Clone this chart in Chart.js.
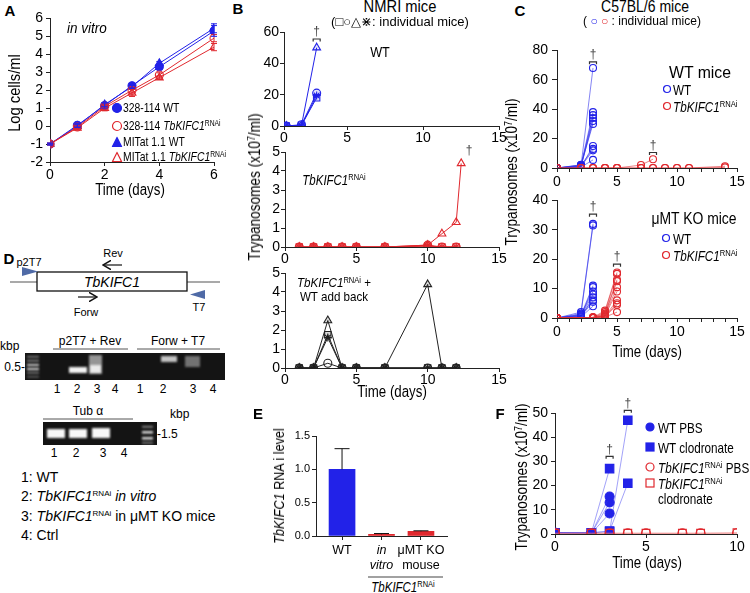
<!DOCTYPE html>
<html>
<head>
<meta charset="utf-8">
<script src="https://cdn.jsdelivr.net/npm/chart.js@4.4.1/dist/chart.umd.min.js"></script>
<style>
  body { margin: 0; width: 750px; height: 593px; position: relative; overflow: hidden; background: #fff;
         font-family: "Liberation Sans", Arial, sans-serif; color: #000; }
  canvas { position: absolute; }
  .t { position: absolute; white-space: nowrap; line-height: 1; }
  .t sup { font-size: 0.65em; position: relative; top: -0.5em; vertical-align: baseline; line-height: 0; }
  #gel { position: absolute; left: 0; top: 0; }
</style>
</head>
<body>
<svg id="gel" width="240" height="593" font-family="Liberation Sans, Arial, sans-serif">
  <defs>
    <filter id="blur"><feGaussianBlur stdDeviation="1.2"/></filter>
    <marker id="ah" markerWidth="8" markerHeight="8" refX="6" refY="4" orient="auto">
      <path d="M0,0 L7,4 L0,8" fill="none" stroke="#111" stroke-width="1.2"/>
    </marker>
  </defs>
  <!-- construct -->
  <line x1="10" y1="282" x2="220" y2="282" stroke="#555" stroke-width="1.2"/>
  <rect x="37" y="272" width="150" height="19" fill="#fff" stroke="#111" stroke-width="1.3"/>
  <text x="112" y="287" font-size="14" font-style="italic" text-anchor="middle">TbKIFC1</text>
  <polygon points="22,267 38,271.5 22,276" fill="#4f6aa6"/>
  <text x="29" y="266" font-size="11" text-anchor="middle">p2T7</text>
  <polygon points="205,290 190,294.5 205,299" fill="#4f6aa6"/>
  <text x="199" y="311" font-size="11" text-anchor="middle">T7</text>
  <text x="113" y="257" font-size="11" text-anchor="middle">Rev</text>
  <line x1="122" y1="265" x2="104" y2="265" stroke="#111" stroke-width="1.2" marker-end="url(#ah)"/>
  <text x="86" y="316" font-size="11" text-anchor="middle">Forw</text>
  <line x1="78" y1="297" x2="96" y2="297" stroke="#111" stroke-width="1.2" marker-end="url(#ah)"/>
  <!-- gel 1 -->
  <text x="0" y="350" font-size="12">kbp</text>
  <text x="25" y="371" font-size="12" text-anchor="end">0.5-</text>
  <text x="90" y="345" font-size="12" text-anchor="middle">p2T7 + Rev</text>
  <line x1="53" y1="349" x2="128" y2="349" stroke="#555" stroke-width="1"/>
  <text x="178" y="345" font-size="12" text-anchor="middle">Forw + T7</text>
  <line x1="137" y1="349" x2="220" y2="349" stroke="#555" stroke-width="1"/>
  <rect x="25" y="353" width="200" height="27" fill="#141414"/>
  <g filter="url(#blur)" fill="#fff">
    <rect x="27" y="356" width="12" height="1.5" opacity="0.5"/>
    <rect x="27" y="360" width="12" height="1.5" opacity="0.55"/>
    <rect x="27" y="364" width="12" height="2" opacity="0.8"/>
    <rect x="27" y="368" width="12" height="2" opacity="0.85"/>
    <rect x="27" y="372" width="12" height="1.5" opacity="0.5"/>
    <rect x="27" y="376" width="12" height="1.5" opacity="0.35"/>
    <rect x="69" y="367" width="18" height="6" opacity="0.95"/>
    <rect x="89" y="355" width="13" height="19" opacity="0.55"/>
    <rect x="90" y="365" width="11" height="8" opacity="0.8"/>
    <rect x="161" y="356" width="16" height="6" opacity="0.75"/>
    <rect x="185" y="356" width="15" height="11" opacity="0.4"/>
  </g>
  <g font-size="12" text-anchor="middle">
    <text x="57" y="393">1</text><text x="77" y="393">2</text><text x="97" y="393">3</text><text x="115" y="393">4</text>
    <text x="140" y="393">1</text><text x="163" y="393">2</text><text x="193" y="393">3</text><text x="213" y="393">4</text>
  </g>
  <!-- gel 2 -->
  <text x="88" y="415" font-size="12" text-anchor="middle">Tub &#945;</text>
  <line x1="43" y1="419" x2="133" y2="419" stroke="#555" stroke-width="1"/>
  <text x="170" y="418" font-size="12">kbp</text>
  <rect x="43" y="422" width="114" height="23" fill="#141414"/>
  <g filter="url(#blur)" fill="#fff">
    <rect x="47" y="429" width="18" height="9" opacity="0.97"/>
    <rect x="69" y="429" width="18" height="9" opacity="0.97"/>
    <rect x="92" y="428" width="18" height="10" opacity="0.97"/>
    <rect x="142" y="426" width="11" height="1.5" opacity="0.6"/>
    <rect x="142" y="431" width="11" height="2.5" opacity="0.85"/>
    <rect x="142" y="437" width="11" height="2.5" opacity="0.85"/>
    <rect x="142" y="442" width="11" height="1.5" opacity="0.5"/>
  </g>
  <text x="157" y="438" font-size="12">-1.5</text>
  <g font-size="12" text-anchor="middle">
    <text x="54" y="457">1</text><text x="76" y="457">2</text><text x="103" y="457">3</text><text x="124" y="457">4</text>
  </g>
  <g font-size="14">
    <text x="21" y="482">1: WT</text>
    <text x="21" y="501">2: <tspan font-style="italic">TbKIFC1</tspan><tspan font-size="8" dy="-5">RNAi</tspan><tspan dy="5" font-style="italic"> in vitro</tspan></text>
    <text x="21" y="521">3: <tspan font-style="italic">TbKIFC1</tspan><tspan font-size="8" dy="-5">RNAi</tspan><tspan dy="5"> in &#956;MT KO mice</tspan></text>
    <text x="21" y="540">4: Ctrl</text>
  </g>
</svg>
<script>
// ---------- data ----------
// A: in vitro growth (log cells/ml)
const aDays = [0, 1, 2, 3, 4, 6];
const a328Wt = [-1, 0.05, 1.15, 2.25, 3.3, 5.3];
const a328WtErr = [0.05, 0.1, 0.15, 0.12, 0.1, 0.3];
const a328Rnai = [-1, -0.05, 1.1, 2.0, 2.85, 4.9];
const a328RnaiErr = [0.05, 0.1, 0.12, 0.15, 0.12, 0.2];
const aMitatWt = [-1, 0.0, 1.2, 2.2, 3.5, 5.45];
const aMitatWtErr = [0.05, 0.08, 0.1, 0.1, 0.1, 0.25];
const aMitatRnai = [-1, -0.1, 1.0, 1.85, 2.7, 4.4];
const aMitatRnaiErr = [0.05, 0.1, 0.15, 0.2, 0.1, 0.2];

// B: NMRI mice, one array per mouse (square, circle, triangle, star)
const bWtDays = [1, 2, 3];
const bWtSquare = [0, 0.5, 18];
const bWtCircle = [0, 0.8, 21];
const bWtTriangle = [0, 0.3, 50];
const bWtStar = [0, 0.2, 19.5];
const bWtDeaths = [[3, 60]];

const bRnaiDays = [1, 2, 3, 4, 5, 7, 10, 11, 12, 12.35];
const bRnaiSquare = [0, 0, 0, 0, 0, 0, 0.05, 0, 0, null];
const bRnaiCircle = [0, 0, 0, 0, 0, 0, 0.1, 0, 0, null];
const bRnaiTriangle = [0, 0, 0, 0, 0, 0, 0.1, 0.7, 1.3, 4.4];
const bRnaiStar = [0, 0, 0, 0, 0, 0, 0.05, 0, 0, null];
const bRnaiDeaths = [[12.9, 5.05]];

const bAddDays = [1, 2, 3, 4, 5, 7, 10, 11, 12];
const bAddSquare = [0, 0, 1.75, 0, 0, 0, 0, 0, 0];
const bAddCircle = [0, 0, 0.25, 0, 0, 0, 0, 0, 0];
const bAddTriangle = [0, 0, 2.5, 0, 0, 0, 4.4, 0, 0];
const bAddStar = [0, 0, 1.6, 0, 0, 0, 0, 0, 0];

// C: C57BL/6 mice, WT mice and muMT KO mice
const cWtDays = [0, 2, 3];
const cWtMice = [[0, 1.5, 68], [0, 2, 38], [0, 1, 36], [0, 1.2, 34], [0, 0.8, 32],
                 [0, 2.2, 30], [0, 0.5, 15], [0, 1.8, 13], [0, 1, 12], [0, 0.6, 5.5]];
const cRnaiDays = [0, 2, 3, 4, 5, 7, 8, 9, 10, 11, 14];
const cRnaiMice = [[0, 0, 0, 0, 0, 2, 6, null, null, null, null],
                   [0, 0, 0, 0, 0, 0, 0, 0, 0, 0, 1.2],
                   [0, 0, 0, 0, 0, 0, 0, 0, 0, 0, 0.4]];
const cWtDeaths = [[3, 77], [8, 15.3]];

const cKoWtDays = [0, 2, 3];
const cKoWtMice = [[0, 2, 32], [0, 1.5, 31.5], [0, 1, 11], [0, 0.5, 10.5], [0, 1.2, 9],
                   [0, 0.8, 8], [0, 0.3, 7], [0, 1, 6], [0, 0.6, 5.5], [0, 0.4, 4]];
const cKoRnaiDays = [0, 3, 4, 5];
const cKoRnaiMice = [[0, 0.2, 2.5, 15.5], [0, 0.1, 2, 15], [0, 0.2, 1.5, 13], [0, 0.1, 1.2, 12.5],
                     [0, 0, 1, 10.5], [0, 0.1, 0.8, 9], [0, 0, 0.6, 6], [0, 0.2, 0.5, 5],
                     [0, 0, 0.4, 4.5], [0, 0.1, 0.3, 2]];
const cKoDeaths = [[3, 37.7], [5, 20.7]];

// E: RNAi level
const eGroups = ['WT', ['in', 'vitro'], ['\u03bcMT KO', 'mouse']];
const eLevels = [1.0, 0.025, 0.07];
const eErr = [0.31, 0.012, 0.008];

// F: clodronate
const fWtDays = [0, 2, 3, 4];
const fWtPbs = [[0.5, 0.3, 15.5, null], [0.5, 0.3, 13, null], [0.5, 0.3, 8.5, null]];
const fWtClod = [[0.5, 0.5, 27, null], [0.5, 0.5, 1, 47], [0.5, 0.5, 1.2, 21]];
const fRnaiDays = [0, 2, 3, 4, 5, 7, 8, 10];
const fRnaiPbs = [0.3, 0.3, 0.3, 0.3, 0.3, 0.3, 0.3, 0.3];
const fRnaiClod = [0.3, 0.3, 0.3, 0.3, 0.3, 0.3, 0.3, 0.5];
const fDeaths = [[3, 35], [4, 54]];

// ---------- helpers ----------
const BLUE = '#2222e8', RED = '#e0282e', AX = '#222';
const FONT = '"Liberation Sans", Arial, sans-serif';
Chart.defaults.font.family = FONT;
Chart.defaults.color = '#000';

const pts = (xs, ys) => xs.map((x, i) => ({ x, y: ys[i] }));

// error bars, daggers and brackets drawn through the chart scales
const marks = {
  id: 'marks',
  afterDatasetsDraw(chart, args, opts) {
    const { ctx, scales: { x, y } } = chart;
    ctx.save();
    (opts.errors || []).forEach(e => {
      ctx.strokeStyle = e.color; ctx.lineWidth = 1;
      e.xs.forEach((xv, i) => {
        const px = x.getPixelForValue(xv);
        const top = y.getPixelForValue(e.ys[i] + e.errs[i]);
        const bot = y.getPixelForValue(e.ys[i] - (e.upOnly ? 0 : e.errs[i]));
        ctx.beginPath();
        ctx.moveTo(px, top); ctx.lineTo(px, bot);
        ctx.moveTo(px - e.cap, top); ctx.lineTo(px + e.cap, top);
        if (!e.upOnly) { ctx.moveTo(px - e.cap, bot); ctx.lineTo(px + e.cap, bot); }
        ctx.stroke();
      });
    });
    ctx.fillStyle = '#444'; ctx.strokeStyle = '#333'; ctx.lineWidth = 1.2;
    ctx.font = '12px ' + FONT; ctx.textAlign = 'center'; ctx.textBaseline = 'middle';
    (opts.deaths || []).forEach(d => {
      const px = x.getPixelForValue(d[0]), py = y.getPixelForValue(d[1]);
      ctx.fillText('\u2020', px, py);
      if (opts.bracket !== false) {
        const by = py + 7;
        ctx.beginPath();
        ctx.moveTo(px - 3.5, by + 2.5); ctx.lineTo(px - 3.5, by);
        ctx.lineTo(px + 3.5, by); ctx.lineTo(px + 3.5, by + 2.5);
        ctx.stroke();
      }
    });
    ctx.restore();
  }
};

function axis(o) {
  return {
    type: 'linear', min: o.min, max: o.max, offset: false,
    border: { color: AX, width: 1 },
    grid: { drawOnChartArea: false, offset: false, tickLength: o.tl || 4, color: AX },
    ticks: { stepSize: o.step, padding: o.pad, color: '#000', font: o.font || { size: o.fs || 14 },
             maxRotation: 0, autoSkip: false, callback: o.cb || (v => v) },
    afterBuildTicks: o.tickVals ? s => { s.ticks = o.tickVals.map(v => ({ value: v })); } : undefined
  };
}

function mount(area, yw, xh, config, pt) {
  pt = pt || 10;
  const pr = 14;
  const c = document.createElement('canvas');
  const w = area.x1 - area.x0 + yw + pr, h = area.y1 - area.y0 + pt + xh;
  c.width = w; c.height = h;
  c.style.left = (area.x0 - yw) + 'px'; c.style.top = (area.y0 - pt) + 'px';
  c.style.width = w + 'px'; c.style.height = h + 'px';
  document.body.appendChild(c);
  const o = config.options;
  o.responsive = false; o.animation = false; o.devicePixelRatio = 1;
  o.layout = { padding: { top: pt, right: pr, left: 0, bottom: 0 } };
  o.plugins = Object.assign({ legend: { display: false }, tooltip: { enabled: false } }, o.plugins);
  o.scales.x.afterFit = s => { s.height = xh; };
  o.scales.y.afterFit = s => { s.width = yw; };
  config.plugins = [marks];
  return new Chart(c, config);
}

function series(xs, ys, color, style, filled, r, lw, lineColor) {
  return { data: pts(xs, ys), borderColor: lineColor || color, borderWidth: lw, pointStyle: style,
           pointRadius: r, pointBorderColor: color, pointBorderWidth: 1.1,
           pointBackgroundColor: filled === true ? color : (filled || 'rgba(0,0,0,0)'), tension: 0 };
}

// text overlay; sx squeezes the text horizontally like the narrow type of the figure
function put(html, x, y, size, anchor, sx, extra) {
  const d = document.createElement('div');
  d.className = 't';
  d.innerHTML = html;
  const s = sx ? ` scaleX(${sx})` : '';
  const a = anchor || 'c';
  const tr = { c: 'translate(-50%,-50%)', l: 'translate(0,-50%)', r: 'translate(-100%,-50%)',
               v: 'translate(-50%,-50%) rotate(-90deg)' }[a] + s;
  const org = a === 'l' ? 'transform-origin:0 50%;' : '';
  d.style.cssText = `left:${x}px;top:${y}px;font-size:${size}px;transform:${tr};${org}${extra || ''}`;
  document.body.appendChild(d);
}

function sym(shape, color, filled, s) {
  s = s || 10;
  const f = filled ? color : 'none', h = s / 2;
  let el;
  if (shape === 'circle') el = `<circle cx="${h}" cy="${h}" r="${h - 1}" fill="${f}" stroke="${color}" stroke-width="1.2"/>`;
  else if (shape === 'rect') el = `<rect x="1" y="1" width="${s - 2}" height="${s - 2}" fill="${f}" stroke="${color}" stroke-width="1.2"/>`;
  else el = `<polygon points="${h},1 ${s - 1},${s - 1} 1,${s - 1}" fill="${f}" stroke="${color}" stroke-width="1.2"/>`;
  return `<svg width="${s}" height="${s}" style="display:block">${el}</svg>`;
}

const RNAI = '<i>TbKIFC1</i><sup>RNAi</sup>';
const TRYP = 'Trypanosomes (x10<sup>7</sup>/ml)';

// ---------- A ----------
mount({ x0: 50, x1: 214, y0: 17, y1: 162 }, 34, 24, {
  type: 'line',
  data: { datasets: [
    series(aDays, a328Rnai, RED, 'circle', false, 4, 1),
    series(aDays, aMitatRnai, RED, 'triangle', false, 4.5, 1),
    series(aDays, a328Wt, BLUE, 'circle', true, 4, 1),
    series(aDays, aMitatWt, BLUE, 'triangle', true, 4.5, 1)
  ] },
  options: {
    scales: {
      x: axis({ min: 0, max: 6, step: 2, pad: 1 }),
      y: axis({ min: -2, max: 6, step: 1, pad: 3 })
    },
    plugins: { marks: { errors: [
      { xs: aDays, ys: a328Rnai, errs: a328RnaiErr, color: RED, cap: 3 },
      { xs: aDays, ys: aMitatRnai, errs: aMitatRnaiErr, color: RED, cap: 3 },
      { xs: aDays, ys: a328Wt, errs: a328WtErr, color: BLUE, cap: 3 },
      { xs: aDays, ys: aMitatWt, errs: aMitatWtErr, color: BLUE, cap: 3 }
    ] } }
  }
});

// ---------- B ----------
const bTicks = v => v < 1 ? '0' : v;
mount({ x0: 284, x1: 499, y0: 32, y1: 126 }, 30, 20, {
  type: 'line',
  data: { datasets: [
    series(bWtDays, bWtSquare, BLUE, 'rect', 'rgba(34,34,232,0.12)', 4.5, 1),
    series(bWtDays, bWtCircle, BLUE, 'circle', 'rgba(34,34,232,0.12)', 4, 1),
    series(bWtDays, bWtTriangle, BLUE, 'triangle', 'rgba(34,34,232,0.12)', 4.5, 1),
    series(bWtDays, bWtStar, BLUE, 'star', false, 4, 1)
  ] },
  options: {
    scales: {
      x: axis({ min: 0.85, max: 15, pad: 0, tickVals: [0.85, 5, 10, 15], cb: bTicks }),
      y: axis({ min: 0, max: 60, step: 20, pad: 1 })
    },
    plugins: { marks: { deaths: bWtDeaths } }
  }
});
mount({ x0: 285, x1: 499, y0: 152, y1: 247 }, 30, 20, {
  type: 'line',
  data: { datasets: [
    series(bRnaiDays, bRnaiSquare, RED, 'rect', 'rgba(224,40,46,0.35)', 4.5, 1),
    series(bRnaiDays, bRnaiCircle, RED, 'circle', false, 4, 1),
    series(bRnaiDays, bRnaiStar, RED, 'star', false, 4, 1),
    series(bRnaiDays, bRnaiTriangle, RED, 'triangle', false, 4.5, 1)
  ] },
  options: {
    scales: {
      x: axis({ min: 0, max: 15, step: 5, pad: 0 }),
      y: axis({ min: 0, max: 5, step: 1, pad: 1 })
    },
    plugins: { marks: { deaths: bRnaiDeaths, bracket: false } }
  }
});
mount({ x0: 285, x1: 499, y0: 273, y1: 368 }, 30, 20, {
  type: 'line',
  data: { datasets: [
    series(bAddDays, bAddSquare, '#222', 'rect', 'rgba(0,0,0,0.15)', 4.5, 1),
    series(bAddDays, bAddCircle, '#222', 'circle', false, 4, 1),
    series(bAddDays, bAddStar, '#222', 'star', false, 4, 1),
    series(bAddDays, bAddTriangle, '#222', 'triangle', 'rgba(0,0,0,0.15)', 4.5, 1)
  ] },
  options: {
    scales: {
      x: axis({ min: 0, max: 15, step: 5, pad: 0 }),
      y: axis({ min: 0, max: 5, step: 1, pad: 1 })
    }
  }
});

// ---------- C ----------
const cMinor = v => v % 5 === 0 ? v : '';
const cLineB = 'rgba(50,50,235,0.75)', cLineR = 'rgba(224,50,55,0.75)';
mount({ x0: 557, x1: 737, y0: 48, y1: 168 }, 34, 24, {
  type: 'line',
  data: { datasets: [
    ...cRnaiMice.map(m => series(cRnaiDays, m, RED, 'circle', false, 3.5, 0.8, cLineR)),
    ...cWtMice.map(m => series(cWtDays, m, BLUE, 'circle', false, 3.5, 0.8, cLineB))
  ] },
  options: {
    scales: {
      x: axis({ min: 0, max: 15, step: 1, pad: 2, tl: 4, cb: cMinor }),
      y: axis({ min: 0, max: 80, step: 20, pad: 4, tl: 5 })
    },
    plugins: { marks: { deaths: cWtDeaths } }
  }
});
mount({ x0: 557, x1: 737, y0: 198, y1: 318 }, 34, 24, {
  type: 'line',
  data: { datasets: [
    ...cKoRnaiMice.map(m => series(cKoRnaiDays, m, RED, 'circle', false, 3.5, 0.8, cLineR)),
    ...cKoWtMice.map(m => series(cKoWtDays, m, BLUE, 'circle', false, 3.5, 0.8, cLineB))
  ] },
  options: {
    scales: {
      x: axis({ min: 0, max: 15, step: 1, pad: 2, tl: 4, cb: cMinor }),
      y: axis({ min: 0, max: 40, step: 10, pad: 4, tl: 5 })
    },
    plugins: { marks: { deaths: cKoDeaths } }
  }
});

// ---------- E ----------
mount({ x0: 316, x1: 447, y0: 436, y1: 536 }, 30, 40, {
  type: 'bar',
  data: { datasets: [{
    data: pts([0, 1, 2], eLevels),
    backgroundColor: [BLUE, RED, RED], barThickness: 26
  }] },
  options: {
    scales: {
      // "in vitro" in italics through a scriptable tick font
      x: axis({ min: -0.66, max: 2.66, pad: 3, tickVals: [0, 1, 2], cb: v => eGroups[v],
                font: c => ({ size: 12.5, style: c.index === 1 ? 'italic' : 'normal', lineHeight: 1.2 }) }),
      y: axis({ min: 0, max: 1.5, step: 0.5, pad: 2, fs: 11, cb: v => v.toFixed(1) })
    },
    plugins: { marks: { errors: [
      { xs: [0, 1, 2], ys: eLevels, errs: eErr, color: '#111', cap: 7.5, upOnly: true }
    ] } }
  }
});

// ---------- F ----------
const fLineB = 'rgba(60,60,240,0.6)', fLineR = 'rgba(235,110,110,0.55)';
mount({ x0: 555, x1: 737, y0: 413, y1: 534 }, 34, 24, {
  type: 'line',
  data: { datasets: [
    series(fRnaiDays, fRnaiPbs, RED, 'circle', false, 4.5, 1, fLineR),
    series(fRnaiDays, fRnaiClod, RED, 'rect', false, 5.5, 1, fLineR),
    ...fWtPbs.map(m => series(fWtDays, m, BLUE, 'circle', true, 4.5, 0.8, fLineB)),
    ...fWtClod.map(m => series(fWtDays, m, BLUE, 'rect', true, 6, 0.8, fLineB))
  ] },
  options: {
    scales: {
      x: axis({ min: 0, max: 10, step: 5, pad: 1 }),
      y: axis({ min: 0, max: 50, step: 10, pad: 3 })
    },
    plugins: { marks: { deaths: fDeaths } }
  }
}, 22);

// ---------- text ----------
const BOLD = 'font-weight:bold';
put('A', 10, 10, 15, 'c', 0, BOLD);
put('B', 238, 8, 15, 'c', 0, BOLD);
put('C', 520, 10, 15, 'c', 0, BOLD);
put('D', 9, 258, 15, 'c', 0, BOLD);
put('E', 258, 413, 15, 'c', 0, BOLD);
put('F', 500, 413, 15, 'c', 0, BOLD);

// A
put('<i>in vitro</i>', 87, 27, 15, 'c', 0.9);
put('Log cells/ml', 15, 93, 16, 'v', 0.92);
put('Time (days)', 130, 190, 16, 'c', 0.83);
put(sym('circle', BLUE, true, 11), 117, 108);
put(sym('circle', RED, false, 11), 117, 126);
put(sym('tri', BLUE, true, 11), 117, 142);
put(sym('tri', RED, false, 11), 117, 157);
put('328-114 WT', 123, 108, 13.5, 'l', 0.77);
put('328-114 ' + RNAI, 123, 126, 13.5, 'l', 0.77);
put('MITat 1.1 WT', 123, 142, 13.5, 'l', 0.77);
put('MITat 1.1 ' + RNAI, 123, 157, 13.5, 'l', 0.77);

// B
put('NMRI mice', 400, 7, 16, 'c', 0.92);
put('(\u25a1\u25cb\u25b3\u22c7: individual mice)', 400, 21, 13);
put('WT', 380, 52, 14, 'c', 0.9);
put(RNAI, 334, 180, 14, 'c', 0.82);
put(RNAI + ' +', 334, 283, 13.5, 'c', 0.86);
put('WT add back', 334, 297, 13.5, 'c', 0.86);
put(TRYP, 255, 187, 16, 'v', 0.85);
put('Time (days)', 392, 392, 16, 'c', 0.83);

// C
put('C57BL/6 mice', 645, 7, 16, 'c', 0.875);
put('( <span style="color:' + BLUE + '">\u25cb</span> <span style="color:' + RED + '">\u25cb</span> : individual mice)', 642, 21, 12);
put(TRYP, 512, 172, 16, 'v', 0.85);
put('WT mice', 700, 72, 17, 'c', 0.93);
put(sym('circle', BLUE, false, 9), 667, 89);
put('WT', 673, 89, 15, 'l', 0.78);
put(sym('circle', RED, false, 9), 667, 106);
put(RNAI, 673, 106, 15, 'l', 0.78);
put('\u03bcMT KO mice', 694, 219, 16, 'c', 0.87);
put(sym('circle', BLUE, false, 9), 666, 238);
put('WT', 673, 238, 15, 'l', 0.78);
put(sym('circle', RED, false, 9), 666, 255);
put(RNAI, 673, 255, 15, 'l', 0.78);
put('Time (days)', 647, 352, 16, 'c', 0.83);

// E
put('<i>TbKIFC1</i> RNA i level', 279, 486, 14, 'v', 0.9);
put('', 368, 577, 1, 'l', 0, 'width:75px;height:0;border-top:1px solid #444');
put(RNAI, 403, 587, 14, 'c', 0.82);

// F
put(TRYP, 522, 477, 16, 'v', 0.85);
put('Time (days)', 647, 563, 16, 'c', 0.83);
put(sym('circle', BLUE, true, 10), 650, 427);
put(sym('rect', BLUE, true, 10), 650, 447);
put(sym('circle', RED, false, 10), 650, 467);
put(sym('rect', RED, false, 10), 650, 483);
put('WT PBS', 658, 427, 15, 'l', 0.78);
put('WT clodronate', 658, 447, 15, 'l', 0.78);
put(RNAI + ' PBS', 658, 467, 15, 'l', 0.78);
put(RNAI, 658, 483, 15, 'l', 0.78);
put('clodronate', 658, 498, 15, 'l', 0.78);
</script>
</body>
</html>
